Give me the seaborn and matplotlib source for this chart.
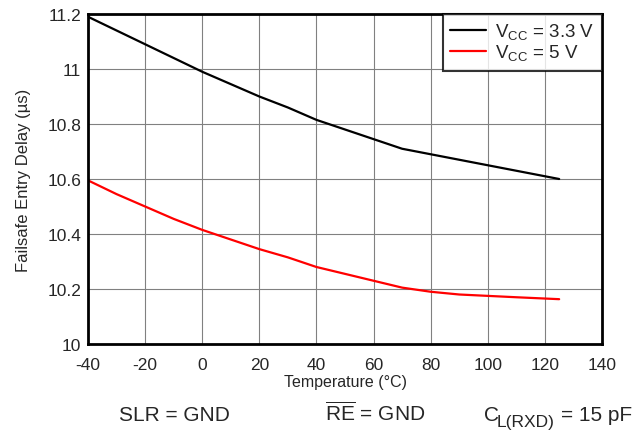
import pandas as pd
import matplotlib
matplotlib.use("Agg")
import matplotlib.pyplot as plt
import seaborn as sns

temp = [-40, -30, -20, -10, 0, 10, 20, 30, 40, 50, 60, 70, 80, 90, 100, 110, 125]
delay_33v = [11.19, 11.14, 11.09, 11.04, 10.99, 10.945, 10.90, 10.86, 10.815, 10.78,
             10.745, 10.71, 10.69, 10.67, 10.65, 10.63, 10.60]
delay_5v = [10.595, 10.545, 10.50, 10.455, 10.415, 10.38, 10.345, 10.315, 10.28, 10.255,
            10.23, 10.205, 10.19, 10.18, 10.175, 10.17, 10.163]
series = [r"V$_{\mathregular{CC}}$ = 3.3 V", r"V$_{\mathregular{CC}}$ = 5 V"]

df = pd.DataFrame({
    "temp": temp * 2,
    "delay": delay_33v + delay_5v,
    "series": [series[0]] * len(temp) + [series[1]] * len(temp),
})

sns.set_style("white")
plt.rcParams["font.family"] = ["Liberation Sans", "DejaVu Sans"]
plt.rcParams["mathtext.fontset"] = "custom"
plt.rcParams["mathtext.rm"] = "Liberation Sans"
plt.rcParams["axes.unicode_minus"] = False

W, H = 633, 431
fig = plt.figure(figsize=(W / 100, H / 100), dpi=100)
ax = fig.add_axes([88 / W, 1 - 345 / H, 514 / W, 330 / H])

sns.lineplot(data=df, x="temp", y="delay", hue="series",
             palette=["black", "#ff0000"], linewidth=1.6, ax=ax)

ax.set_xlim(-40, 140)
ax.set_ylim(10, 11.2)
ax.set_xticks(range(-40, 141, 20))
ax.set_yticks([10, 10.2, 10.4, 10.6, 10.8, 11, 11.2])
ax.set_yticklabels(["10", "10.2", "10.4", "10.6", "10.8", "11", "11.2"])
ax.grid(True, color="#808080", linewidth=0.8)
for s in ax.spines.values():
    s.set_linewidth(2)
    s.set_color("black")
ax.tick_params(labelsize=12.5, length=0)
ax.tick_params(axis="x", pad=9)
ax.tick_params(axis="y", pad=5)
ax.set_xlabel("Temperature (°C)", fontsize=11.5, labelpad=2)
ax.set_ylabel("Failsafe Entry Delay (µs)", fontsize=12, labelpad=12)

leg = ax.legend(loc="upper right", fontsize=13.5, frameon=True, fancybox=False,
                borderaxespad=0.0, handlelength=1.9, handletextpad=0.5,
                labelspacing=0.05, borderpad=0.4)
leg.get_frame().set_edgecolor("black")
leg.get_frame().set_linewidth(1.5)
leg.set_title(None)

# condition notes under the chart
base = 1 - 421 / H
fig.text(119 / W, base, "SLR = GND", fontsize=15, va="baseline")
fig.text(325 / W, base, r"$\overline{\mathregular{RE}}$ = GND", fontsize=15, va="baseline")
fig.text(484 / W, base, "C", fontsize=15, va="baseline")
fig.text(497 / W, 1 - 427 / H, "L(RXD)", fontsize=12.5, va="baseline")
fig.text(561 / W, base, "= 15 pF", fontsize=15, va="baseline")

fig.savefig("out.png", dpi=100)
